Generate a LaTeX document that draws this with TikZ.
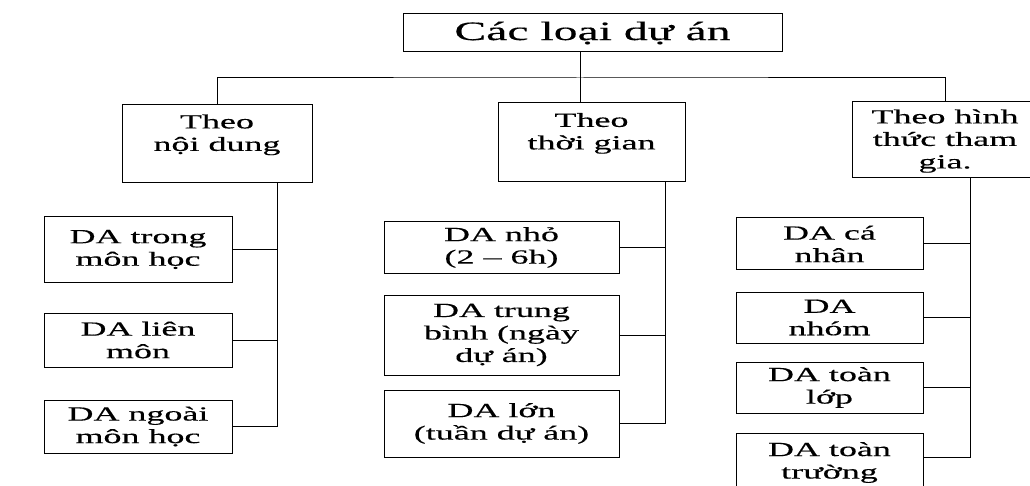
\documentclass[tikz,border=0pt]{standalone}
\usepackage{fontspec}
\setmainfont{Liberation Serif}[FakeStretch=1.8,FakeBold=0.4]
\newcommand\midtext[3]{\parbox[c][#1][t]{182pt}{\centering\vspace*{#2}#3}}
\begin{document}
\begin{tikzpicture}[x=1pt,y=-1pt,
  line width=1pt,
  boxbase/.style={draw, rectangle, inner sep=0pt, align=center},
  titlebox/.style={boxbase, font=\fontsize{26.5}{30}\selectfont},
  midbox/.style={boxbase, font=\fontsize{20}{22.5}\selectfont},
  kidbox/.style={boxbase, font=\fontsize{20}{22.5}\selectfont},
  link/.style={draw, line width=1pt}]
\useasboundingbox[fill=white] (0,0) rectangle (1030,486);

% title
\node[titlebox, minimum width=379pt, minimum height=38pt] (T) at (592.5,33) {Các loại dự án};

% second level
\node[midbox, minimum width=190pt, minimum height=78pt] (B1) at (217,144)
  {\midtext{78pt}{9.5pt}{Theo\\nội dung}};
\node[midbox, minimum width=187pt, minimum height=79pt] (B2) at (591.5,142.5)
  {\midtext{79pt}{10pt}{Theo\\thời gian}};
\node[midbox, minimum width=186pt, minimum height=76pt] (B3) at (945,140)
  {\midtext{76pt}{7.5pt}{Theo hình\\thức tham\\gia.}};

% left column
\node[kidbox, minimum width=188pt, minimum height=65pt] (L1) at (138,249.5) {DA trong\\môn học};
\node[kidbox, minimum width=188pt, minimum height=54pt] (L2) at (138,340) {DA liên\\môn};
\node[kidbox, minimum width=188pt, minimum height=53pt] (L3) at (138,426.5) {DA ngoài\\môn học};

% middle column
\node[kidbox, minimum width=235pt, minimum height=51pt] (M1) at (501.5,247.5) {DA nhỏ\\(2 – 6h)};
\node[kidbox, minimum width=235pt, minimum height=80pt] (M2) at (501.5,335) {DA trung\\bình (ngày\\dự án)};
\node[kidbox, minimum width=235pt, minimum height=67pt] (M3) at (501.5,423.5) {DA lớn\\(tuần dự án)};

% right column
\node[kidbox, minimum width=187pt, minimum height=52pt] (R1) at (829.5,244) {DA cá\\nhân};
\node[kidbox, minimum width=187pt, minimum height=51pt] (R2) at (829.5,317.5) {DA\\nhóm};
\node[kidbox, minimum width=187pt, minimum height=51pt] (R3) at (829.5,387.5) {DA toàn\\lớp};
\node[kidbox, minimum width=187pt, minimum height=59pt] (R4) at (829.5,462.5) {DA toàn\\trường};

% connector coordinates
\coordinate (s2) at (580,78);
\coordinate (tL) at (277,0);
\coordinate (tM) at (665,0);
\coordinate (tR) at (970,0);

% top level connectors
\draw[link] (T.south -| s2) -- (B2.north -| s2);
\draw[link] (B1.north) |- (s2) -| (B3.north);

% left trunk
\draw[link] (B1.south -| tL) |- (L3.east);
\draw[link] (L1.east) -- (L1.east -| tL);
\draw[link] (L2.east) -- (L2.east -| tL);

% middle trunk
\draw[link] (B2.south -| tM) |- (M3.east);
\draw[link] (M1.east) -- (M1.east -| tM);
\draw[link] (M2.east) -- (M2.east -| tM);

% right trunk
\draw[link] (B3.south -| tR) |- ([yshift=-25pt]R4.north east);
\draw[link] (R1.east) -- (R1.east -| tR);
\draw[link] (R2.east) -- (R2.east -| tR);
\draw[link] (R3.east) -- (R3.east -| tR);
\end{tikzpicture}
\end{document}
